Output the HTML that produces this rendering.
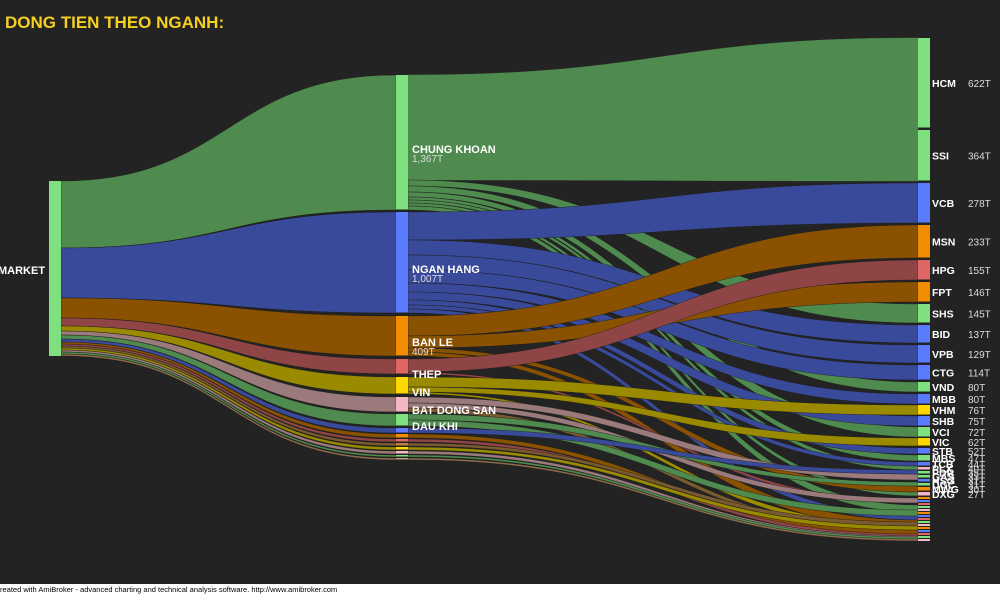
<!DOCTYPE html>
<html><head><meta charset="utf-8">
<style>
html,body{margin:0;padding:0;background:#232323;width:1000px;height:595px;overflow:hidden;font-family:"Liberation Sans",Arial,sans-serif}
svg{display:block}
</style></head><body>
<svg id="s" width="1000" height="595" xmlns="http://www.w3.org/2000/svg">
<rect width="1000" height="595" fill="#232323"/>
<g id="flows"></g>
<g id="nodes"></g>
<rect x="0" y="584" width="1000" height="11" fill="#ffffff"/>
<text x="0" y="592" font-size="7.5" fill="#000">reated with AmiBroker - advanced charting and technical analysis software. http://www.amibroker.com</text>
<text x="5" y="28" font-size="17" font-weight="bold" fill="#f5d020">DONG TIEN THEO NGANH:</text>
<g font-size="11" font-weight="bold" fill="#fff">
<text x="-2" y="274">MARKET</text>
<text x="412" y="153">CHUNG KHOAN</text>
<text x="412" y="273">NGAN HANG</text>
<text x="412" y="346">BAN LE</text>
<text x="412" y="378">THEP</text>
<text x="412" y="396">VIN</text>
<text x="412" y="414">BAT DONG SAN</text>
<text x="412" y="430">DAU KHI</text>
</g>
<g font-size="10" fill="#ddd">
<text x="412" y="162">1,367T</text>
<text x="412" y="282">1,007T</text>
<text x="412" y="355">409T</text>
</g>
<g font-size="10.5" font-weight="bold" fill="#fff" id="rl"></g>
<g font-size="10" fill="#ddd" id="rv"></g>
</svg>
<script>
var NS="http://www.w3.org/2000/svg";
function el(p,t,a){var e=document.createElementNS(NS,t);for(var k in a)e.setAttribute(k,a[k]);document.getElementById(p).appendChild(e);return e;}
function band(sx,a0,a1,tx,b0,b1,c,ns){var m=(sx+tx)/2;
el("flows","path",{d:"M"+sx+","+a0+" C"+m+","+a0+" "+m+","+b0+" "+tx+","+b0+" L"+tx+","+b1+" C"+m+","+b1+" "+m+","+a1+" "+sx+","+a1+"Z",fill:c,stroke:ns?c:"#1a1a1a","stroke-width":"0.4"});}
var G="#4f8a4f",B="#3a4a9a",O="#8a5200",R="#8f4545",Y="#9a8a00",P="#9a7a7a",BR="#7a5a30";
var L=[[181,248,75,210,G],[248,298,212,313,B],[298,318,316,356,O],[318,326,359,374,R],[326,331,377,394,Y],[331,335,397,412,P],[335,339,414,426,G],[339,342,428,433,B],[342,344,434,438,O],[344,346,439,442,R],[346,348,443,446,BR],[348,350,447,450,Y],[350,352,451,454,P],[352,354,455,457,G],[354,356,458,460,"#8a6a4a"]];
L.forEach(function(f){band(61,f[0],f[1],396,f[2],f[3],f[4]);});
var M=[[75,150,38,128,G,1],[150,180,128,181,G,1],[180,186,304,323,G],[186,192,382,392,G],[192,197,427,437,G],[197,200,455,461,G],[200,203,466,470,G],[203,206,492,496,G],[206,210,505,512,G],
[212,240,183,223,B],[240,255,325,343,B],[255,270,345,363,B],[270,283,365,380,B],[283,292,394,404,B],[292,300,416,426,B],[300,305,448,454,B],[305,309,462,466,B],[309,313,515,520,B],
[316,336,225,258,O],[336,348,282,302,O],[348,352,486,492,O],[352,356,520,528,O],
[359,372,260,280,R],[372,374,500,503,R],
[377,387,405,415,Y],[387,392,438,446,Y],[392,394,525,530,Y],
[397,403,474,480,P],[403,408,498,503,P],[408,412,530,534,BR],
[414,420,482,486,G],[420,426,510,516,G],
[428,433,470,474,B],[434,438,530,535,O],[439,442,534,537,R],[443,446,522,526,BR],[447,450,526,530,Y],[451,454,536,539,P],[455,457,537,540,G],[458,460,539,541,"#8a6a4a"]];
M.forEach(function(f){band(408,f[0],f[1],918,f[2],f[3],f[4],f[5]);});
var LG="#7ee07e",LB="#5b7bff",LO="#f28c00",LR="#e06666",LY="#ffd700",LP="#f4b6c2";
el("nodes","rect",{x:49,y:181,width:12,height:175,fill:LG});
[[75,210,LG],[212,313,LB],[316,356,LO],[359,374,LR],[377,394,LY],[397,412,LP],[414,426,LG],[428,433,LB],[434,438,LO],[439,442,LR],[443,446,"#c08040"],[447,450,LY],[451,454,LP],[455,457,LG],[458,460,"#c0a080"]].forEach(function(n){el("nodes","rect",{x:396,y:n[0],width:12,height:n[1]-n[0]-0.5,fill:n[2]});});
var RN=[["HCM","622T",38,128,LG],["SSI","364T",130,181,LG],["VCB","278T",183,223,LB],["MSN","233T",225,258,LO],["HPG","155T",260,280,LR],["FPT","146T",282,302,LO],["SHS","145T",304,323,LG],["BID","137T",325,343,LB],["VPB","129T",345,363,LB],["CTG","114T",365,380,LB],["VND","80T",382,392,LG],["MBB","80T",394,404,LB],["VHM","76T",405,415,LY],["SHB","75T",416,426,LB],["VCI","72T",427,437,LG],["VIC","62T",438,446,LY],["STB","52T",448,454,LB],["MBS","47T",455,461,LG],["TCB","44T",462,466,LB],["PLX","40T",467,470,LP],["PDR","35T",471,474,LG],["GAS","33T",475,478,LG],["HSG","31T",479,482,LB],["DGC","31T",483,486,LG],["MWG","30T",487,491,LO],["DXG","27T",492,496,LP]];
RN.forEach(function(n){el("nodes","rect",{x:918,y:n[2],width:12,height:n[3]-n[2]-0.5,fill:n[4]});
var cy=(n[2]+n[3])/2+4;var t=el("rl","text",{x:932,y:cy});t.textContent=n[0];var v=el("rv","text",{x:968,y:cy});v.textContent=n[1];});
for(var y=497;y<541;y+=3){el("nodes","rect",{x:918,y:y,width:12,height:2,fill:["#5b7bff","#7ee07e","#f28c00","#e06666","#f4b6c2"][y%5]});}
</script>
</body></html>
